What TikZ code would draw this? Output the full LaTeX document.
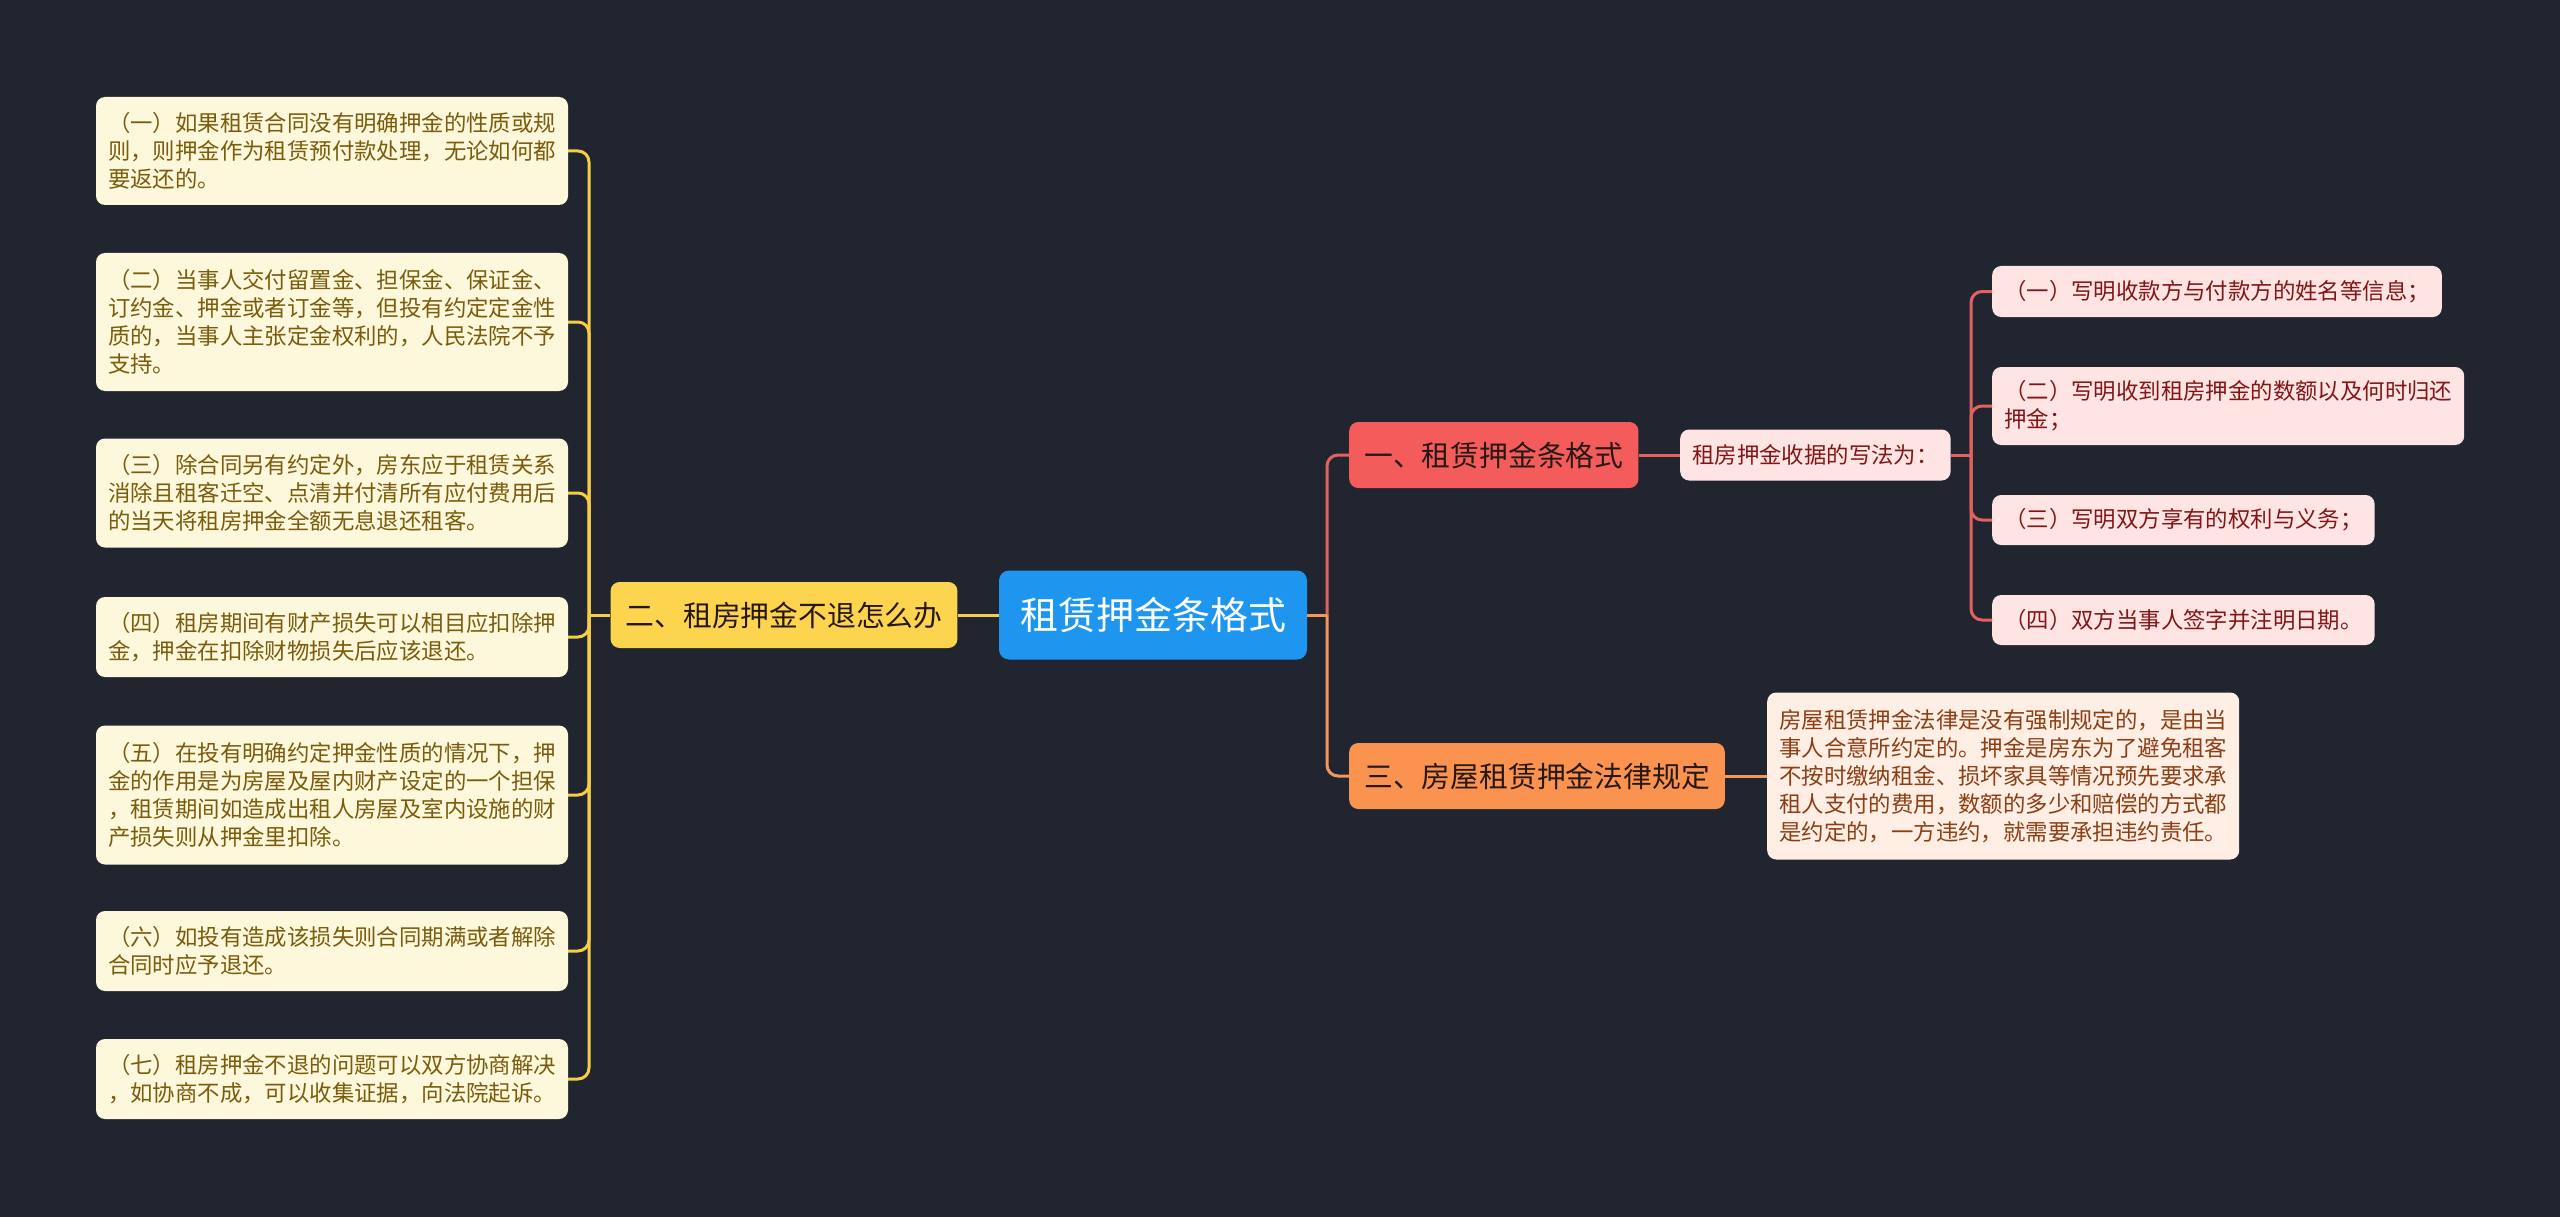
\documentclass[tikz,border=0pt]{standalone}
\usepackage{fontspec}
\setmainfont{Noto Sans CJK SC}
\definecolor{bg}{RGB}{33,37,48}
\definecolor{rootbg}{RGB}{30,150,240}
\definecolor{ynode}{RGB}{253,212,78}
\definecolor{ybg}{RGB}{253,247,220}
\definecolor{ytx}{RGB}{122,92,12}
\definecolor{yln}{RGB}{245,205,70}
\definecolor{rnode}{RGB}{244,92,92}
\definecolor{pbg}{RGB}{255,228,228}
\definecolor{ptx}{RGB}{130,22,22}
\definecolor{rln}{RGB}{226,98,96}
\definecolor{onode}{RGB}{250,146,80}
\definecolor{obg}{RGB}{255,238,228}
\definecolor{otx}{RGB}{140,62,20}
\definecolor{oln}{RGB}{245,150,90}
\definecolor{dtx}{RGB}{40,24,20}
\tikzset{
  small/.style={rounded corners=9pt, inner xsep=12pt, inner ysep=0pt, align=left,
    font=\fontsize{22.4pt}{28pt}\selectfont},
  ybox/.style={small, fill=ybg, text=ytx, minimum width=472pt},
  pbox/.style={small, fill=pbg, text=ptx},
  obox/.style={small, fill=obg, text=otx},
  branch/.style={rounded corners=9pt, inner xsep=15pt, inner ysep=0pt, minimum height=66pt,
    text=dtx, font=\fontsize{28.8pt}{34pt}\selectfont},
  rootnode/.style={rounded corners=10pt, inner xsep=21pt, inner ysep=0pt, minimum height=89pt,
    fill=rootbg, text=white, font=\fontsize{38pt}{44pt}\selectfont},
  conn/.style={line width=3pt},
  yl/.style={conn, draw=yln},
  rl/.style={conn, draw=rln},
  ol/.style={conn, draw=oln},
  rc/.style={rounded corners=11pt}
}
\begin{document}
\begin{tikzpicture}[x=1pt, y=-1pt]
\fill[bg] (0,0) rectangle (2560,1217);
\useasboundingbox (0,0) rectangle (2560,1217);

% root
\node[rootnode] (root) at (1153,615) {租赁押金条格式};

% left branch
\node[branch, fill=ynode] (two) at (784,615) {二、租房押金不退怎么办};
\node[ybox, minimum height=108pt] (b1) at (332,151) {（一）如果租赁合同没有明确押金的性质或规\\则，则押金作为租赁预付款处理，无论如何都\\要返还的。};
\node[ybox, minimum height=138pt] (b2) at (332,322) {（二）当事人交付留置金、担保金、保证金、\\订约金、押金或者订金等，但投有约定定金性\\质的，当事人主张定金权利的，人民法院不予\\支持。};
\node[ybox, minimum height=109pt] (b3) at (332,493) {（三）除合同另有约定外，房东应于租赁关系\\消除且租客迁空、点清并付清所有应付费用后\\的当天将租房押金全额无息退还租客。};
\node[ybox, minimum height=80pt] (b4) at (332,637) {（四）租房期间有财产损失可以相目应扣除押\\金，押金在扣除财物损失后应该退还。};
\node[ybox, minimum height=139pt] (b5) at (332,795) {（五）在投有明确约定押金性质的情况下，押\\金的作用是为房屋及屋内财产设定的一个担保\\，租赁期间如造成出租人房屋及室内设施的财\\产损失则从押金里扣除。};
\node[ybox, minimum height=80pt] (b6) at (332,951) {（六）如投有造成该损失则合同期满或者解除\\合同时应予退还。};
\node[ybox, minimum height=80pt] (b7) at (332,1079) {（七）租房押金不退的问题可以双方协商解决\\，如协商不成，可以收集证据，向法院起诉。};

% right branches
\node[branch, fill=rnode, anchor=west] (one) at (1349,455) {一、租赁押金条格式};
\node[branch, fill=onode, anchor=west] (three) at (1349,776) {三、房屋租赁押金法律规定};
\node[pbox, minimum height=51pt, anchor=west] (sub) at (1680,455) {租房押金收据的写法为：};
\node[pbox, minimum height=51pt, anchor=west] (l1) at (1992,291.5) {（一）写明收款方与付款方的姓名等信息；};
\node[pbox, minimum height=78pt, anchor=west] (l2) at (1992,406) {（二）写明收到租房押金的数额以及何时归还\\押金；};
\node[pbox, minimum height=50pt, anchor=west] (l3) at (1992,520) {（三）写明双方享有的权利与义务；};
\node[pbox, minimum height=50pt, anchor=west] (l4) at (1992,620) {（四）双方当事人签字并注明日期。};
\node[obox, minimum height=167pt, anchor=west] (tb) at (1767,776) {房屋租赁押金法律是没有强制规定的，是由当\\事人合意所约定的。押金是房东为了避免租客\\不按时缴纳租金、损坏家具等情况预先要求承\\租人支付的费用，数额的多少和赔偿的方式都\\是约定的，一方违约，就需要承担违约责任。};

% junctions
\coordinate (jL) at (589,615);
\coordinate (jR) at (1327,615);
\coordinate (jS) at (1971,455);

% left connectors
\draw[yl] (root.west) -- (two.east);
\draw[yl] (two.west) -- (jL);
\foreach \b in {b1,b2,b3,b4,b5,b6,b7}{
  \draw[yl, rc] (jL) |- (\b.east);
}

% right connectors
\draw[rl, rc] (jR) |- (one.west);
\draw[ol] (root.east) -- (jR);
\draw[ol, rc] (jR) |- (three.west);
\draw[rl] (one.east) -- (sub.west);
\draw[rl] (sub.east) -- (jS);
\foreach \l in {l1,l2,l3,l4}{
  \draw[rl, rc] (jS) |- (\l.west);
}
\draw[ol] (three.east) -- (tb.west);
\end{tikzpicture}
\end{document}
